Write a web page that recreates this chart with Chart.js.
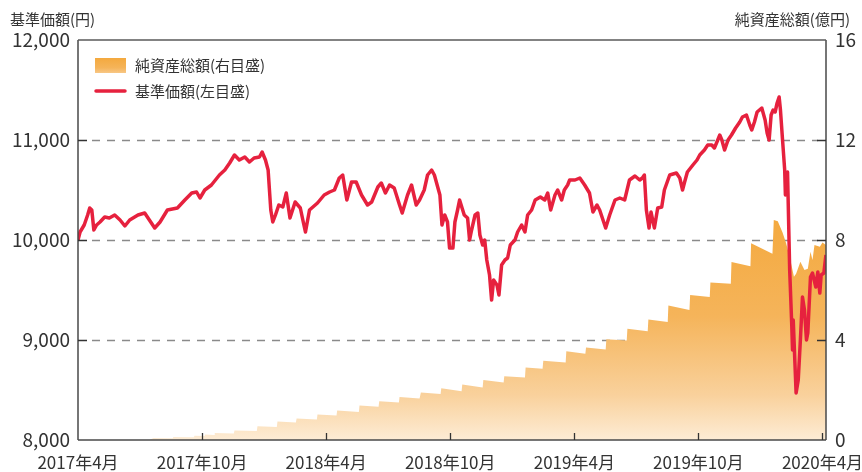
<!DOCTYPE html>
<html lang="ja">
<head>
<meta charset="utf-8">
<script src="https://cdn.jsdelivr.net/npm/chart.js@4.4.1/dist/chart.umd.min.js"></script>
<style>
  html, body { margin: 0; padding: 0; background: #fff; }
  #wrap { width: 862px; height: 472px; position: relative; }
</style>
</head>
<body>
<div id="wrap"><canvas id="chart"></canvas></div>
<script>
"use strict";

/* ------------------------------------------------------------------
 * Data
 * ------------------------------------------------------------------ */
const xTickMonths = [0, 6, 12, 18, 24, 30, 36];
const xTickLabels = ["2017年4月", "2017年10月", "2018年4月", "2018年10月", "2019年4月", "2019年10月", "2020年4月"];
const navTicks    = [8000, 9000, 10000, 11000, 12000];
const assetTicks  = [0, 4, 8, 12, 16];

// 基準価額 (円)
const navDates = [
  "2017-04-01","2017-04-04","2017-04-10","2017-04-15","2017-04-18","2017-04-21","2017-04-24","2017-04-28",
  "2017-05-03","2017-05-10","2017-05-17","2017-05-25","2017-06-02","2017-06-09","2017-06-16","2017-06-28",
  "2017-07-08","2017-07-15","2017-07-23","2017-07-31","2017-08-11","2017-08-26","2017-09-06","2017-09-16",
  "2017-09-23","2017-09-28","2017-10-05","2017-10-15","2017-10-27","2017-11-04","2017-11-11","2017-11-18",
  "2017-11-25","2017-12-03","2017-12-10","2017-12-17","2017-12-25","2017-12-29","2018-01-03","2018-01-07",
  "2018-01-11","2018-01-14","2018-01-18","2018-01-23","2018-01-29","2018-02-03","2018-02-08","2018-02-15",
  "2018-02-22","2018-02-26","2018-03-01","2018-03-07","2018-03-19","2018-03-29","2018-04-06","2018-04-13",
  "2018-04-20","2018-04-25","2018-05-01","2018-05-08","2018-05-15","2018-05-23","2018-06-01","2018-06-07",
  "2018-06-16","2018-06-21","2018-06-27","2018-07-03","2018-07-10","2018-07-18","2018-07-22","2018-07-30",
  "2018-08-05","2018-08-12","2018-08-17","2018-08-24","2018-08-29","2018-09-04","2018-09-08","2018-09-16",
  "2018-09-19","2018-09-23","2018-09-27","2018-09-30","2018-10-05","2018-10-08","2018-10-12","2018-10-15",
  "2018-10-22","2018-10-27","2018-10-30","2018-11-02","2018-11-07","2018-11-11","2018-11-14","2018-11-18",
  "2018-11-21","2018-11-24","2018-11-28","2018-12-01","2018-12-04","2018-12-09","2018-12-12","2018-12-16",
  "2018-12-21","2018-12-25","2018-12-29","2019-01-05","2019-01-09","2019-01-15","2019-01-20","2019-01-24",
  "2019-01-30","2019-02-04","2019-02-11","2019-02-17","2019-02-21","2019-02-25","2019-03-03","2019-03-07",
  "2019-03-13","2019-03-17","2019-03-22","2019-03-25","2019-04-02","2019-04-09","2019-04-16","2019-04-23",
  "2019-04-28","2019-05-04","2019-05-08","2019-05-13","2019-05-17","2019-05-23","2019-05-31","2019-06-07",
  "2019-06-14","2019-06-21","2019-06-29","2019-07-06","2019-07-10","2019-07-13","2019-07-16","2019-07-20",
  "2019-07-23","2019-07-28","2019-08-02","2019-08-08","2019-08-12","2019-08-20","2019-08-30","2019-09-04",
  "2019-09-08","2019-09-11","2019-09-15","2019-09-23","2019-09-29","2019-10-03","2019-10-10","2019-10-15",
  "2019-10-21","2019-10-25","2019-10-30","2019-11-02","2019-11-05","2019-11-09","2019-11-14","2019-11-19",
  "2019-11-25","2019-12-01","2019-12-05","2019-12-11","2019-12-16","2019-12-19","2019-12-23","2019-12-27",
  "2020-01-03","2020-01-08","2020-01-11","2020-01-14","2020-01-17","2020-01-20","2020-01-23","2020-01-26",
  "2020-01-29","2020-01-31","2020-02-03","2020-02-06","2020-02-07","2020-02-08","2020-02-10","2020-02-13",
  "2020-02-16","2020-02-17","2020-02-18","2020-02-22","2020-02-25","2020-02-28","2020-03-02","2020-03-05",
  "2020-03-08","2020-03-10","2020-03-14","2020-03-17","2020-03-22","2020-03-25","2020-03-28","2020-03-30",
  "2020-04-03","2020-04-06"
];
const navValues = [
  10000,10080,10150,10250,10320,10300,10100,10150,
  10180,10230,10220,10250,10200,10140,10200,10250,
  10270,10200,10120,10180,10300,10320,10400,10470,
  10480,10420,10500,10550,10650,10700,10770,10850,
  10800,10830,10780,10820,10830,10880,10800,10700,
  10300,10180,10250,10350,10330,10470,10220,10380,
  10320,10180,10080,10300,10370,10450,10480,10500,
  10620,10650,10400,10580,10580,10450,10350,10380,
  10530,10570,10470,10550,10520,10350,10270,10450,
  10550,10350,10400,10500,10650,10700,10650,10450,
  10150,10250,10180,9920,9920,10180,10300,10400,
  10250,10220,10000,10100,10250,10270,10050,9950,
  10000,9800,9650,9400,9600,9550,9450,9750,
  9800,9820,9950,10000,10080,10150,10080,10250,
  10300,10400,10430,10400,10470,10300,10450,10500,
  10400,10500,10550,10600,10600,10620,10550,10470,
  10280,10350,10300,10200,10120,10250,10400,10420,
  10400,10600,10640,10600,10620,10650,10300,10120,
  10280,10120,10320,10330,10500,10650,10670,10620,
  10500,10580,10680,10750,10800,10850,10900,10950,
  10950,10920,11000,11050,11000,10900,11000,11050,
  11120,11180,11230,11250,11150,11100,11180,11280,
  11320,11200,11070,11000,11250,11300,11280,11370,
  11430,11300,11000,10700,10450,10550,10680,9700,
  9130,8900,9200,8470,8600,9000,9430,9300,
  9000,9070,9630,9670,9530,9680,9470,9650,
  9670,9850
];

// 純資産総額 (億円)
const assetDates = [
  "2017-07-15","2017-07-21","2017-08-19","2017-08-20","2017-09-19","2017-09-20","2017-10-04","2017-10-05",
  "2017-10-19","2017-10-20","2017-11-17","2017-11-18","2017-12-21","2017-12-22","2018-01-20","2018-01-21",
  "2018-02-16","2018-02-17","2018-03-18","2018-03-19","2018-04-16","2018-04-17","2018-05-19","2018-05-20",
  "2018-06-17","2018-06-18","2018-07-17","2018-07-18","2018-08-17","2018-08-19","2018-09-17","2018-09-18",
  "2018-10-18","2018-10-19","2018-11-18","2018-11-19","2018-12-19","2018-12-20","2019-01-20","2019-01-21",
  "2019-02-14","2019-02-15","2019-03-19","2019-03-20","2019-04-17","2019-04-18","2019-05-17","2019-05-18",
  "2019-06-17","2019-06-18","2019-07-18","2019-07-19","2019-08-17","2019-08-18","2019-09-18","2019-09-19",
  "2019-10-18","2019-10-19","2019-11-18","2019-11-19","2019-12-17","2019-12-18","2020-01-19","2020-01-21",
  "2020-01-27","2020-02-03","2020-02-08","2020-02-13","2020-02-19","2020-02-22","2020-02-28","2020-03-05",
  "2020-03-10","2020-03-14","2020-03-17","2020-03-20","2020-03-28","2020-04-01","2020-04-06"
];
const assetValues = [
  0,0.08,0.07,0.12,0.11,0.17,0.16,0.22,
  0.20,0.28,0.26,0.38,0.36,0.55,0.52,0.74,
  0.70,0.86,0.82,1.02,0.98,1.18,1.12,1.38,
  1.33,1.55,1.50,1.72,1.66,1.90,1.84,2.07,
  1.95,2.22,2.10,2.40,2.30,2.55,2.50,2.90,
  2.85,3.17,3.10,3.55,3.45,3.70,3.62,4.03,
  3.98,4.45,4.35,4.82,4.72,5.38,5.20,5.80,
  5.72,6.30,6.25,7.12,6.95,7.87,7.45,8.80,
  8.75,8.30,7.87,7.33,6.53,6.65,7.13,6.80,
  6.85,7.53,7.20,7.80,7.73,7.90,7.80
];

const X_MAX = 36.17;
const RED   = "#E6213E";
const TEXT  = "#333333";
const FONT  = "'Noto Sans CJK JP', 'Noto Sans', sans-serif";

/* ------------------------------------------------------------------
 * Helpers
 * ------------------------------------------------------------------ */
function _monthIndex(s) {
  const p = s.split("-").map(Number);
  const days = new Date(p[0], p[1], 0).getDate();
  return (p[0] - 2017) * 12 + (p[1] - 4) + (p[2] - 1) / days;
}

function _points(dates, values) {
  return dates.map(function (d, i) { return { x: _monthIndex(d), y: values[i] }; });
}

function _areaGradient(ctx, top, bottom) {
  const g = ctx.createLinearGradient(0, top, 0, bottom);
  g.addColorStop(0,    "#F4A93E");
  g.addColorStop(0.45, "#F5B45A");
  g.addColorStop(0.8,  "#F9D19C");
  g.addColorStop(1,    "#FDECD5");
  return g;
}

/* ------------------------------------------------------------------
 * Frame, grid, legend and titles
 * ------------------------------------------------------------------ */
const framePlugin = {
  id: "frame",
  beforeDatasetsDraw: function (chart) {
    const ctx = chart.ctx, a = chart.chartArea, y = chart.scales.y;
    ctx.save();
    ctx.strokeStyle = "#8a8a8a";
    ctx.lineWidth = 1.3;
    ctx.setLineDash([8, 7]);
    navTicks.slice(1, -1).forEach(function (v) {
      const py = Math.round(y.getPixelForValue(v)) + 0.5;
      ctx.beginPath();
      ctx.moveTo(a.left + 14, py);
      ctx.lineTo(a.right - 8, py);
      ctx.stroke();
    });
    ctx.restore();
  },
  afterDatasetsDraw: function (chart) {
    const ctx = chart.ctx, a = chart.chartArea;
    const x = chart.scales.x, y = chart.scales.y, y2 = chart.scales.y2;
    ctx.save();
    ctx.setLineDash([]);
    ctx.strokeStyle = "#4a4a4a";
    ctx.lineWidth = 1.5;
    ctx.beginPath();
    ctx.moveTo(a.left, a.top);  ctx.lineTo(a.left, a.bottom);
    ctx.moveTo(a.right, a.top); ctx.lineTo(a.right, a.bottom);
    ctx.moveTo(a.left, a.bottom); ctx.lineTo(a.right, a.bottom);
    ctx.stroke();
    ctx.strokeStyle = "#5a5a5a";
    ctx.beginPath();
    ctx.moveTo(a.left, a.top); ctx.lineTo(a.right, a.top);
    ctx.stroke();

    // inward tick marks
    ctx.strokeStyle = "#333";
    ctx.lineWidth = 1.3;
    ctx.beginPath();
    navTicks.slice(1, -1).forEach(function (v) {
      const py = Math.round(y.getPixelForValue(v)) + 0.5;
      ctx.moveTo(a.left, py); ctx.lineTo(a.left + 9, py);
    });
    assetTicks.slice(1, -1).forEach(function (v) {
      const py = Math.round(y2.getPixelForValue(v)) + 0.5;
      ctx.moveTo(a.right - 9, py); ctx.lineTo(a.right, py);
    });
    xTickMonths.slice(1).forEach(function (v) {
      const px = Math.round(x.getPixelForValue(v)) + 0.5;
      ctx.moveTo(px, a.bottom); ctx.lineTo(px, a.bottom - 7);
    });
    ctx.stroke();

    // axis titles
    ctx.fillStyle = TEXT;
    ctx.font = "15px " + FONT;
    ctx.textBaseline = "middle";
    ctx.textAlign = "left";
    ctx.fillText("基準価額(円)", 10, 19);
    ctx.textAlign = "right";
    ctx.fillText("純資産総額(億円)", 850, 19);

    // legend
    ctx.fillStyle = _areaGradient(ctx, 58, 80);
    ctx.fillRect(95, 58, 31, 15);
    ctx.strokeStyle = RED;
    ctx.lineWidth = 3.5;
    ctx.lineCap = "round";
    ctx.beginPath();
    ctx.moveTo(96, 91); ctx.lineTo(125, 91);
    ctx.stroke();
    ctx.fillStyle = TEXT;
    ctx.textAlign = "left";
    ctx.fillText("純資産総額(右目盛)", 135, 65);
    ctx.fillText("基準価額(左目盛)", 135, 91);
    ctx.restore();
  }
};

/* ------------------------------------------------------------------
 * Chart
 * ------------------------------------------------------------------ */
new Chart(document.getElementById("chart").getContext("2d"), {
  type: "line",
  data: {
    datasets: [{
      label:       "基準価額(左目盛)",
      data:        _points(navDates, navValues),
      yAxisID:     "y",
      borderColor: RED,
      borderWidth: 3.5,
      pointRadius: 0,
      tension:     0,
      borderJoinStyle: "round",
      order:       0,
    }, {
      label:       "純資産総額(右目盛)",
      data:        _points(assetDates, assetValues),
      yAxisID:     "y2",
      borderWidth: 0,
      borderColor: "rgba(0,0,0,0)",
      pointRadius: 0,
      tension:     0,
      fill:        "origin",
      backgroundColor: function (c) {
        const area = c.chart.chartArea;
        if (!area) return "#F5B45A";
        return _areaGradient(c.chart.ctx, c.chart.scales.y2.getPixelForValue(9), area.bottom);
      },
      order:       1,
    }],
  },
  options: {
    responsive:          true,
    maintainAspectRatio: false,
    animation:           false,
    devicePixelRatio:    1,
    layout: { padding: { top: 40, left: 0, right: 0, bottom: 0 } },
    plugins: {
      legend:  { display: false },
      tooltip: { enabled: false },
    },
    scales: {
      x: {
        type: "linear",
        min:  0,
        max:  X_MAX,
        afterBuildTicks: function (s) {
          s.ticks = xTickMonths.map(function (v) { return { value: v }; });
        },
        afterFit: function (s) { s.height = 32; s.paddingLeft = 0; s.paddingRight = 0; },
        grid:   { display: false, drawTicks: false },
        border: { display: false },
        ticks: {
          autoSkip: false, maxRotation: 0, padding: 12, color: TEXT,
          font: { family: FONT, size: 17 },
          callback: function (v) {
            const i = xTickMonths.indexOf(v);
            return i >= 0 ? xTickLabels[i] : "";
          },
        },
      },
      y: {
        position: "left",
        min: 8000, max: 12000,
        afterBuildTicks: function (s) {
          s.ticks = navTicks.map(function (v) { return { value: v }; });
        },
        afterFit: function (s) { s.width = 78; },
        grid:   { display: false, drawTicks: false },
        border: { display: false },
        ticks: {
          padding: 8, color: TEXT,
          font: { family: FONT, size: 19 },
          callback: function (v) { return v.toLocaleString("en-US"); },
        },
      },
      y2: {
        position: "right",
        min: 0, max: 16,
        afterBuildTicks: function (s) {
          s.ticks = assetTicks.map(function (v) { return { value: v }; });
        },
        afterFit: function (s) { s.width = 36; },
        grid:   { display: false, drawTicks: false },
        border: { display: false },
        ticks: {
          padding: 9, color: TEXT,
          font: { family: FONT, size: 19 },
        },
      },
    },
  },
  plugins: [framePlugin],
});
</script>
</body>
</html>
